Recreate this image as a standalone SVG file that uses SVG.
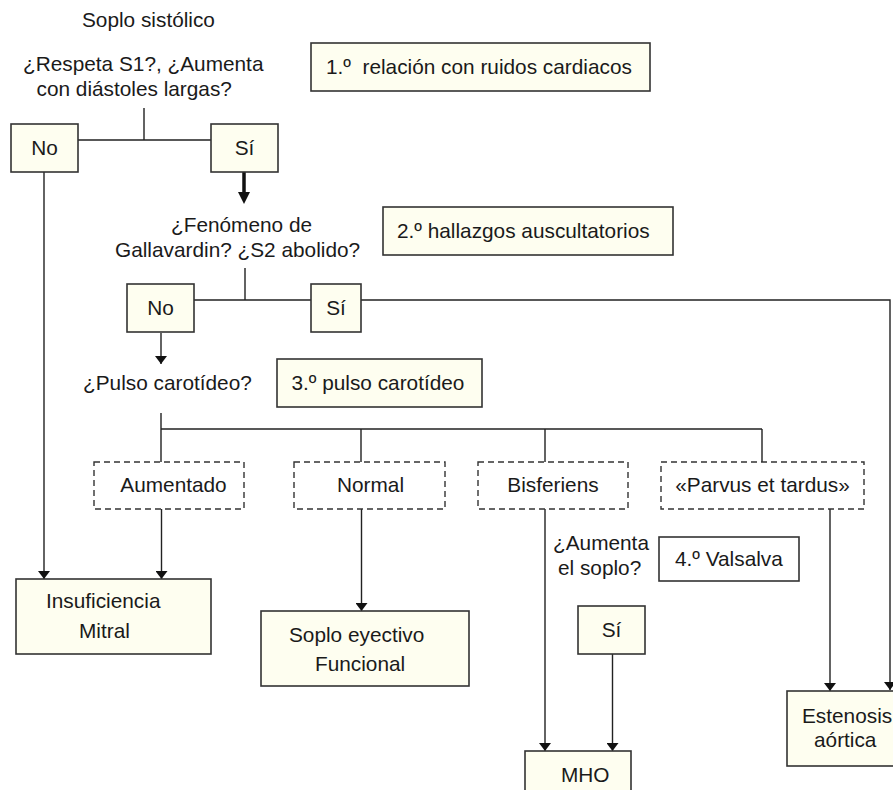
<svg xmlns="http://www.w3.org/2000/svg" width="893" height="790" viewBox="0 0 893 790">
<defs>
<style>
text{font-family:"Liberation Sans",Arial,sans-serif;font-size:20.8px;fill:#1a1a1a}
.box{fill:#fefef0;stroke:#333;stroke-width:1.6}
.wbox{fill:#fff;stroke:#333;stroke-width:1.6}
.dash{fill:#fff;stroke:#333;stroke-width:1.4;stroke-dasharray:6 4}
.ln{fill:none;stroke:#222;stroke-width:1.4}
.ar{fill:none;stroke:#222;stroke-width:1.4;marker-end:url(#ah)}
</style>
<marker id="ah" viewBox="0 0 8 12" refX="8" refY="6" markerWidth="8" markerHeight="12" markerUnits="userSpaceOnUse" orient="auto"><path d="M0,0 L8,6 L0,12 Z" fill="#111"/></marker>
</defs>
<rect width="893" height="790" fill="#fff"/>
<g id="connectors">
<path class="ln" d="M144,108 V140 M78,140 H211"/>
<path class="ar" d="M44,172 V579"/>
<path d="M244,172 V193" stroke="#111" stroke-width="3.5" fill="none"/>
<path d="M238,192 L250,192 L244,204 Z" fill="#111"/>
<path class="ln" d="M245,268 V300 M194,300 H311"/>
<path class="ar" d="M361,300 H890 V690"/>
<path class="ar" d="M161,333 V364"/>
<path class="ln" d="M161,413 V429 H762 M161,429 V462 M361,429 V462 M545,429 V462 M762,429 V462"/>
<path class="ar" d="M161.5,509 V579"/>
<path class="ar" d="M361.5,509 V611"/>
<path class="ar" d="M545,509 V751"/>
<path class="ar" d="M612.5,654 V751"/>
<path class="ar" d="M830,509 V691"/>
</g>
<g id="t-soplo"><text x="82" y="27">Soplo sistólico</text></g>
<g id="q1"><text x="23" y="71">¿Respeta S1?, ¿Aumenta</text><text x="36.5" y="96">con diástoles largas?</text></g>
<g id="step1"><rect class="box" x="311" y="43" width="339" height="48"/><text x="326" y="74">1.º&#160; relación con ruidos cardiacos</text></g>
<g id="no1"><rect class="box" x="11" y="124" width="67" height="48"/><text x="44.5" y="155" text-anchor="middle">No</text></g>
<g id="si1"><rect class="box" x="211" y="124" width="67" height="48"/><text x="244.5" y="155" text-anchor="middle">Sí</text></g>
<g id="q2"><text x="171" y="232">¿Fenómeno de</text><text x="115" y="257">Gallavardin? ¿S2 abolido?</text></g>
<g id="step2"><rect class="box" x="383" y="207" width="290" height="48"/><text x="397" y="238">2.º hallazgos auscultatorios</text></g>
<g id="no2"><rect class="box" x="127" y="284" width="67" height="48"/><text x="160.5" y="315" text-anchor="middle">No</text></g>
<g id="si2"><rect class="box" x="311" y="284" width="50" height="48"/><text x="336" y="315" text-anchor="middle">Sí</text></g>
<g id="q3"><text x="83" y="390">¿Pulso carotídeo?</text></g>
<g id="step3"><rect class="box" x="277" y="359" width="205" height="48"/><text x="291.5" y="390">3.º pulso carotídeo</text></g>
<g id="aumentado"><rect class="dash" x="94" y="462" width="150" height="47"/><text x="173.5" y="492" text-anchor="middle">Aumentado</text></g>
<g id="normal"><rect class="dash" x="294" y="462" width="151" height="47"/><text x="370.5" y="492" text-anchor="middle">Normal</text></g>
<g id="bisferiens"><rect class="dash" x="478" y="462" width="150" height="47"/><text x="553" y="492" text-anchor="middle">Bisferiens</text></g>
<g id="parvus"><rect class="dash" x="661" y="462" width="203" height="47"/><text x="762.5" y="492" text-anchor="middle">«Parvus et tardus»</text></g>
<g id="q4"><text x="553" y="550">¿Aumenta</text><text x="558" y="575">el soplo?</text></g>
<g id="step4"><rect class="wbox" x="659" y="537" width="140" height="44"/><text x="675" y="566">4.º Valsalva</text></g>
<g id="si3"><rect class="box" x="578" y="606" width="67" height="48"/><text x="611.5" y="637" text-anchor="middle">Sí</text></g>
<g id="im"><rect class="box" x="16" y="579" width="195" height="75"/><text x="46" y="608">Insuficiencia</text><text x="79" y="638">Mitral</text></g>
<g id="funcional"><rect class="box" x="261" y="611" width="208" height="75"/><text x="289" y="642">Soplo eyectivo</text><text x="315" y="671">Funcional</text></g>
<g id="mho"><rect class="box" x="525" y="751" width="106" height="60"/><text x="561" y="782">MHO</text></g>
<g id="ea"><rect class="box" x="787" y="691" width="130" height="75"/><text x="802" y="723">Estenosis</text><text x="814" y="747">aórtica</text></g>
</svg>
